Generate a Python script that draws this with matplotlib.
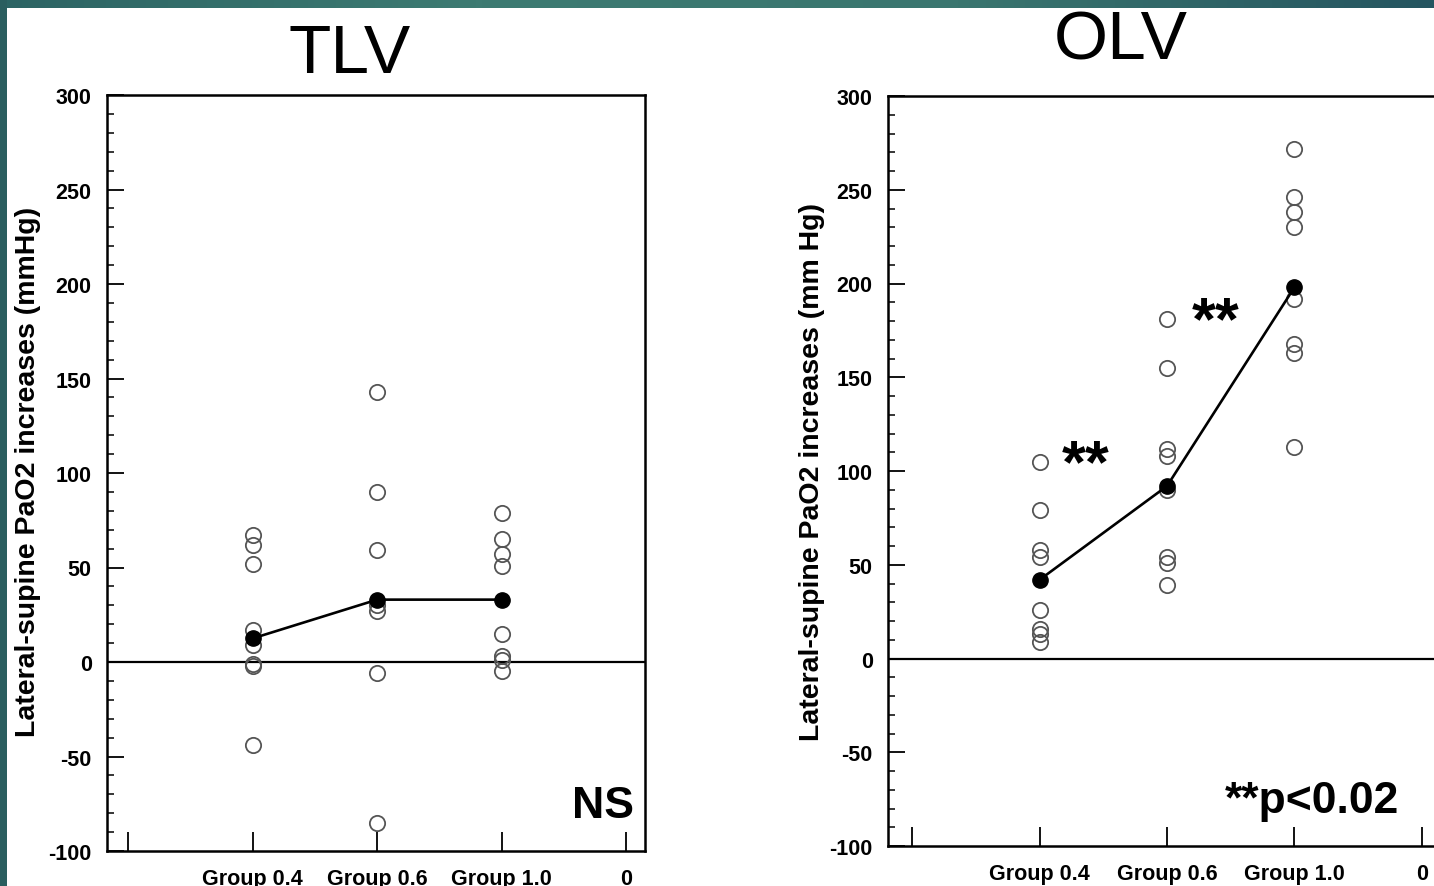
import matplotlib
matplotlib.use("Agg")
import matplotlib.pyplot as plt
import matplotlib.ticker as mticker
import numpy as np

plt.rcParams["font.family"] = ["Liberation Sans", "DejaVu Sans"]
plt.rcParams["axes.unicode_minus"] = False

# x positions on the axis: 0 (unlabelled), Group 0.4, Group 0.6, Group 1.0, "0"
TICK_LABELS = ["", "Group 0.4", "Group 0.6", "Group 1.0", "0"]
GROUP_POS = [1, 2, 3]

# TLV: individual lateral-supine PaO2 increases (mmHg)
TLV_G04 = [67, 62, 52, 17, 9, -1, -2, -44]
TLV_G06 = [143, 90, 59, 30, 27, -6, -85]
TLV_G10 = [79, 65, 57, 51, 15, 3, 1, -5]
TLV_MEAN = [12.5, 33, 33]

# OLV
OLV_G04 = [105, 79, 58, 54, 26, 16, 13, 9]
OLV_G06 = [181, 155, 112, 108, 90, 54, 51, 39]
OLV_G10 = [272, 246, 238, 230, 192, 168, 163, 113]
OLV_MEAN = [42, 92, 198]

W, H = 1434, 887
fig = plt.figure(figsize=(W / 100, H / 100), dpi=100)
fig.patch.set_facecolor("white")


def px(x0, y0, x1, y1):
    # pixel box (top-left origin) -> figure fraction rect
    return [x0 / W, 1 - y1 / H, (x1 - x0) / W, (y1 - y0) / H]


def panel(rect, groups, means, xlim):
    ax = fig.add_axes(rect)
    for xpos, vals in zip(GROUP_POS, groups):
        ax.plot([xpos] * len(vals), vals, "o", mfc="none", mec="#555555",
                ms=11, mew=1.3, zorder=3)
    ax.plot(GROUP_POS, means, "-", color="black", lw=1.9, zorder=4)
    ax.plot(GROUP_POS, means, "o", color="black", ms=11, zorder=5)
    ax.axhline(0, color="black", lw=1.6, zorder=2)

    ax.set_xlim(*xlim)
    ax.set_ylim(-100, 300)
    ax.set_xticks(range(len(TICK_LABELS)))
    ax.set_xticklabels(TICK_LABELS)
    ax.set_yticks(range(-100, 301, 50))
    ax.yaxis.set_minor_locator(mticker.MultipleLocator(10))
    ax.tick_params(axis="x", direction="in", length=14, width=1.3, pad=12,
                   labelsize=15.5)
    ax.tick_params(axis="y", which="major", direction="in", length=12,
                   width=1.3, pad=11, labelsize=15.5)
    ax.tick_params(axis="y", which="minor", direction="in", length=5, width=1.1)
    for lab in ax.get_xticklabels() + ax.get_yticklabels():
        lab.set_fontweight("bold")
    for s in ax.spines.values():
        s.set_linewidth(1.8)
    return ax


ax1 = panel(px(107, 96, 645, 852), [TLV_G04, TLV_G06, TLV_G10], TLV_MEAN,
            (-0.17, 4.15))
ax2 = panel(px(888, 97, 1441, 847), [OLV_G04, OLV_G06, OLV_G10], OLV_MEAN,
            (-0.19, 4.15))

ax1.text(3.81, -76, "NS", ha="center", va="center", fontsize=32,
         fontweight="bold")
ax2.text(3.14, -76, "**p<0.02", ha="center", va="center", fontsize=32,
         fontweight="bold")
ax2.text(1.36, 103, "**", ha="center", va="center", fontsize=44,
         fontweight="bold")
ax2.text(2.38, 179, "**", ha="center", va="center", fontsize=44,
         fontweight="bold")

fig.text(350 / W, 1 - 73 / H, "TLV", ha="center", va="baseline", fontsize=50)
fig.text(1121 / W, 1 - 60 / H, "OLV", ha="center", va="baseline", fontsize=50)

fig.text(28 / W, 1 - 472 / H, "Lateral-supine PaO2 increases (mmHg)",
         rotation=90, ha="center", va="center", fontsize=20.5,
         fontweight="bold")
fig.text(812 / W, 1 - 472 / H, "Lateral-supine PaO2 increases (mm Hg)",
         rotation=90, ha="center", va="center", fontsize=20.5,
         fontweight="bold")

# teal slide frame (top and left strips)
top = fig.add_axes(px(0, 0, W, 9))
grad = np.linspace(0, 1, 256)[None, :]
cmap = matplotlib.colors.LinearSegmentedColormap.from_list(
    "teal", ["#2c6464", "#3d7b72", "#3a766f", "#255560"])
top.imshow(grad, aspect="auto", cmap=cmap)
top.set_axis_off()
left = fig.add_axes(px(0, 0, 7, H))
left.set_facecolor("#2a5e5f")
left.set_xticks([])
left.set_yticks([])
for s in left.spines.values():
    s.set_visible(False)

fig.savefig("out.png", dpi=100)
